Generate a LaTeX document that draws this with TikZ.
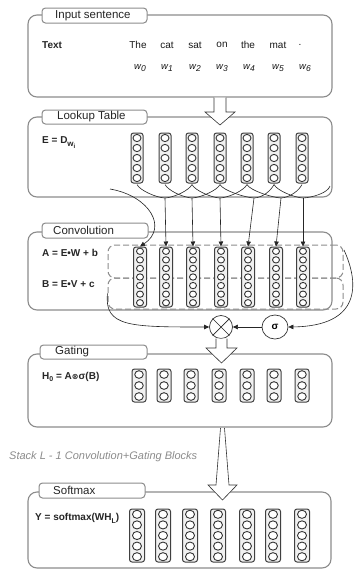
\documentclass[tikz,border=0pt]{standalone}
\usepackage{fontspec}
\setmainfont{Liberation Sans}
\newfontfamily\dejavu{DejaVu Sans}
\usetikzlibrary{arrows.meta,shapes.geometric}

\tikzset{
  blk/.style={draw=black!45, line width=1.1pt, rounded corners=9pt, inner sep=0pt},
  tabbox/.style={draw=black!45, line width=1pt, fill=white, rounded corners=3.5pt, inner sep=0pt},
  tabtxt/.style={anchor=west, inner sep=0pt, text=black!85, font=\fontsize{11.5}{12}\selectfont},
  eqtxt/.style={anchor=west, inner sep=0pt, text=black!85, font=\bfseries\fontsize{10}{11}\selectfont},
  wordtxt/.style={inner sep=0pt, text=black!90, font=\fontsize{10}{11}\selectfont},
  wtxt/.style={inner sep=0pt, text=black!90, font=\itshape\fontsize{9.5}{10}\selectfont},
  colbox/.style={draw=black!75, line width=1pt, fill=black!6, rounded corners=2.5pt, inner sep=0pt},
  neur/.style={ellipse, draw=black!80, line width=0.9pt, fill=white, inner sep=0pt},
  dashbox/.style={draw=black!45, line width=1pt, dash pattern=on 6pt off 3pt, rounded corners=7pt, inner sep=0pt},
  conn/.style={draw=black!85, line width=0.6pt},
  arr/.style={conn, -{Triangle[length=5pt,width=4.5pt]}},
  hollow/.style={draw=black!80, fill=white, line width=0.6pt, line join=miter},
  opnode/.style={circle, draw=black!80, line width=0.7pt, fill=white, inner sep=0pt},
}

\newcommand\neurcol[7]{%
  \node[colbox, minimum width=#6pt, minimum height={(#4-#3)*1pt}] (#1) at (#2,{(#3+#4)/2}) {};
  \foreach \k in {1,...,#5}{
    \node[neur, minimum width=#7pt, minimum height={#7*0.9pt}] (#1-\k) at (#2,{#3+(#4-#3)*(\k-0.5)/#5}) {};
  }%
}

\begin{document}
\begin{tikzpicture}[x=1pt,y=-1pt]
\useasboundingbox (0,0) rectangle (354,571);
\fill[white] (0,0) rectangle (354,571);

% ---------- blocks ----------
\node[blk, minimum width=304pt, minimum height=82pt] (inp) at (180,56) {};
\node[blk, minimum width=304pt, minimum height=80pt] (look) at (180,157) {};
\node[blk, minimum width=304pt, minimum height=78pt] (conv) at (180,271) {};
\node[blk, minimum width=304pt, minimum height=73pt] (gate) at (180,390.5) {};
\node[blk, minimum width=303pt, minimum height=76pt] (soft) at (179.5,530) {};

% ---------- tabs ----------
\node[tabbox, minimum width=105pt, minimum height=15pt] (inpT) at (94.5,15.5) {};
\node[tabbox, minimum width=105pt, minimum height=14pt] (lookT) at (94.5,117) {};
\node[tabbox, minimum width=106pt, minimum height=15pt] (convT) at (95,230.5) {};
\node[tabbox, minimum width=107pt, minimum height=14pt] (gateT) at (93.5,352) {};
\node[tabbox, minimum width=106pt, minimum height=15pt] (softT) at (92,490.5) {};
\node[tabtxt] (inpL) at (55,15.5) {Input sentence};
\node[tabtxt] (lookL) at (57,117) {Lookup Table};
\node[tabtxt] (convL) at (53,230.5) {Convolution};
\node[tabtxt] (gateL) at (55,352) {Gating};
\node[tabtxt] (softL) at (53,490.5) {Softmax};

% ---------- input sentence ----------
\node[eqtxt] (txt) at (42,45) {Text};
\foreach \n/\x/\w in {1/138/The,2/167/cat,3/195/sat,4/222/on,5/248/the,6/278/mat,7/300/.}{
  \node[wordtxt] (wd\n) at (\x,45) {\w};
}
\foreach \n/\x in {0/140,1/167,2/195,3/222,4/249,5/278,6/305}{
  \node[wtxt] (w\n) at (\x,68) {w\raisebox{-2.5pt}{\fontsize{8.5}{9}\selectfont\n}};
}

% ---------- lookup table ----------
\node[eqtxt] (eqE) at (42,143) {E = D\raisebox{-3pt}{\fontsize{8}{8}\selectfont w\raisebox{-2pt}{\fontsize{6}{6}\selectfont i}}};
\foreach \i/\x in {1/137,2/165,3/192,4/220,5/247,6/274,7/302}{
  \neurcol{L\i}{\x}{133}{183}{5}{12}{8}
}

% ---------- convolution ----------
\node[dashbox, minimum width=235pt, minimum height=33pt] (DA) at (225.5,261.5) {};
\node[dashbox, minimum width=235pt, minimum height=31pt] (DB) at (225.5,293.5) {};
\node[eqtxt] (eqA) at (42,253) {A = E•W + b};
\node[eqtxt] (eqB) at (42,284) {B = E•V + c};
\foreach \i/\x in {1/140,2/166,3/193,4/221,5/248,6/276,7/303}{
  \neurcol{C\i}{\x}{247}{307}{7}{13}{7}
}

% connections lookup -> convolution
\coordinate (P) at (110,189);
\coordinate (R) at (330,186);
\coordinate (M2) at (165,198);
\coordinate (M3) at (192,198);
\coordinate (M4) at (220,198);
\coordinate (M5) at (254,198);
\coordinate (M6) at (281,198);
\coordinate (M7) at (303,198);
\foreach \i/\a/\b in {2/1/3,3/2/4,4/3/5,5/4/6,6/5/7}{
  \draw[conn] ([yshift=-1pt]L\a.south) .. controls ([xshift=3pt,yshift=-7pt]L\a.south) and ([xshift=-9pt,yshift=0.5pt]M\i) .. (M\i);
  \draw[conn] ([yshift=-1pt]L\b.south) .. controls ([xshift=-3pt,yshift=-7pt]L\b.south) and ([xshift=9pt,yshift=0.5pt]M\i) .. (M\i);
}
\draw[conn] ([yshift=-1pt]L6.south) .. controls ([xshift=3pt,yshift=-7pt]L6.south) and ([xshift=-9pt,yshift=0.5pt]M7) .. (M7);
\draw[conn] (R) .. controls ([xshift=-2pt,yshift=-7pt]R) and ([xshift=9pt,yshift=0.5pt]M7) .. (M7);
\foreach \i in {2,...,7}{
  \draw[arr] (M\i) -- (C\i.north);
}
\draw[arr] (P) .. controls (150,196) and (168,228) .. (C1.north);

% ---------- gating operations ----------
\node[opnode, minimum size=23pt] (X) at (221,327) {};
\draw[conn, line width=0.7pt] (X.north west) -- (X.south east) (X.north east) -- (X.south west);
\node[opnode, minimum width=26pt, minimum height=24pt, ellipse, font=\bfseries\fontsize{10}{10}\selectfont] (Sg) at (275,327) {σ};
\draw[arr] (Sg) -- (X);
\draw[arr] (DB.west) .. controls (104,327) and (130,327) .. (X.west);
\coordinate (qa) at (344,250);
\draw[arr] (qa) .. controls (360,285) and (360,326) .. (Sg.east);

% ---------- gating ----------
\node[eqtxt] (eqH) at (42,377) {H\raisebox{-2.5pt}{\fontsize{7}{7}\selectfont 0} = A{\dejavu\bfseries\fontsize{8}{8}\selectfont ⊗}σ(B)};
\foreach \i/\x in {1/139,2/164,3/191,4/219,5/247,6/274,7/302}{
  \neurcol{G\i}{\x}{369}{402}{3}{14}{8.5}
}

\node[anchor=west, inner sep=0pt, text=black!45, font=\itshape\fontsize{11}{12}\selectfont] (stk) at (9,457) {Stack L - 1 Convolution+Gating Blocks};

% ---------- softmax ----------
\node[eqtxt] (eqY) at (35,518) {Y = softmax(WH\raisebox{-3pt}{\fontsize{7}{7}\selectfont L})};
\foreach \i/\x in {1/137,2/163,3/190,4/218,5/247,6/273,7/302}{
  \neurcol{S\i}{\x}{509}{562}{5}{15}{9}
}

% ---------- hollow arrows ----------
\draw[hollow] (214,97.5) -- (214,112) -- (205,112) -- (220,125) -- (235,112) -- (226,112) -- (226,97.5);
\draw[hollow] (216,338.5) -- (216,348) -- (206,348) -- (221.5,363) -- (237,348) -- (227,348) -- (227,338.5);
\draw[hollow] (220.5,428) -- (216,485) -- (208,485) -- (222.5,500) -- (237,485) -- (229,485) -- (224.5,428);
\end{tikzpicture}
\end{document}
